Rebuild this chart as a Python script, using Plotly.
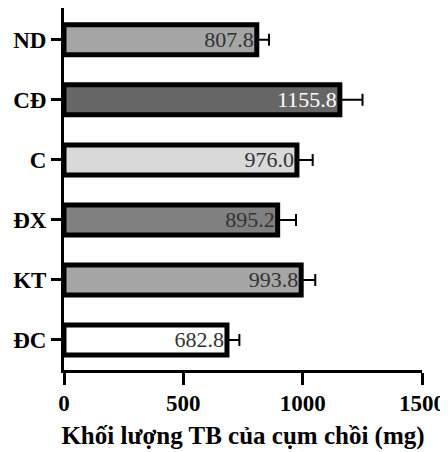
import plotly.graph_objects as go

categories = ["ĐC", "KT", "ĐX", "C", "CĐ", "ND"]
values = [682.8, 993.8, 895.2, 976.0, 1155.8, 807.8]
errors = [52, 59, 77, 66, 95, 51]
fill_colors = ["#ffffff", "#a5a5a5", "#808080", "#d9d9d9", "#666666", "#a5a5a5"]
text_colors = ["#333333", "#333333", "#333333", "#333333", "#ffffff", "#333333"]
x_ticks = [0, 500, 1000, 1500]
x_title = "Khối lượng TB của cụm chồi (mg)"

serif = "Liberation Serif, Times New Roman, serif"

fig = go.Figure()
fig.add_trace(go.Bar(
    y=categories, x=values, orientation="h",
    marker=dict(color=fill_colors, line=dict(color="black", width=5)),
    width=0.5,
    error_x=dict(type="data", array=errors, arrayminus=[0]*len(errors), symmetric=False,
                 color="black", thickness=2, width=6),
    text=[f"{v:.1f}" for v in values],
    textposition="inside", insidetextanchor="end",
    insidetextfont=dict(family=[serif]*len(values), size=22, color=text_colors),
    constraintext="none", cliponaxis=False,
))
fig.update_layout(
    width=440, height=444,
    margin=dict(l=56, r=26, t=0, b=82, autoexpand=False),
    paper_bgcolor="white", plot_bgcolor="white",
    showlegend=False,
    font=dict(family=serif, color="black"),
    xaxis=dict(range=[0, 1500], tickvals=x_ticks, showgrid=False, zeroline=False,
               automargin=False,
               showline=True, linecolor="black", linewidth=3,
               ticks="outside", ticklen=12, tickwidth=3, tickcolor="black",
               ticklabelstandoff=-2,
               tickfont=dict(family=serif, size=23, color="black", weight="bold"),
               title=dict(text=x_title, standoff=12,
                          font=dict(family=serif, size=25, color="black", weight="bold"))),
    yaxis=dict(range=[-0.5, 5.53], showgrid=False, zeroline=False,
               automargin=False,
               showline=True, linecolor="black", linewidth=3,
               ticks="outside", ticklen=10, tickwidth=3, tickcolor="black",
               tickfont=dict(family=serif, size=23, color="black", weight="bold")),
)
fig.write_html("out.html")
